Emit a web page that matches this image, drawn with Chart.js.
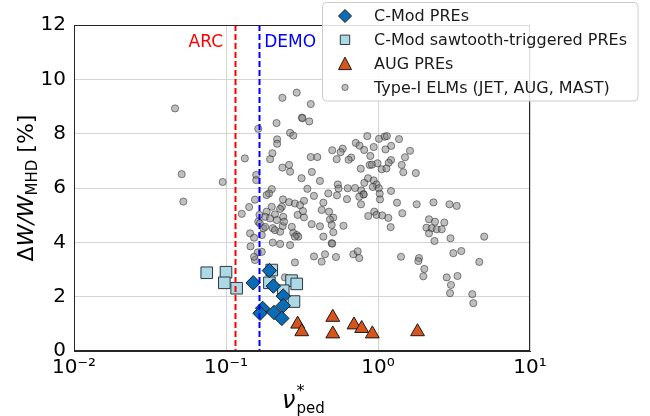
<!DOCTYPE html>
<html lang="en">
<head>
<meta charset="UTF-8">
<title>Energy loss vs pedestal collisionality</title>
<script src="https://cdn.jsdelivr.net/npm/chart.js@4.4.0/dist/chart.umd.min.js"></script>
<style>
  html, body { margin: 0; padding: 0; background: #fff; }
</style>
</head>
<body>
<canvas id="chart" width="650" height="416"></canvas>
<script>
// C-Mod PREs (diamonds)
const modNu = [0.151, 0.193, 0.205, 0.238, 0.238, 0.174, 0.1675, 0.207, 0.233];
const modDW = [2.51, 2.96, 2.39, 2.02, 1.67, 1.57, 1.39, 1.42, 1.20];

// C-Mod sawtooth-triggered PREs (squares)
const sawNu = [0.0747, 0.100, 0.0975, 0.1175, 0.200, 0.193, 0.270, 0.292, 0.238, 0.280];
const sawDW = [2.88, 2.90, 2.51, 2.31, 2.98, 2.51, 2.59, 2.47, 2.22, 1.82];

// AUG PREs (triangles)
const augNu = [0.296, 0.315, 0.504, 0.504, 0.695, 0.781, 0.918, 1.82];
const augDW = [0.99, 0.71, 1.24, 0.63, 0.96, 0.83, 0.63, 0.71];

// Type-I ELMs (JET, AUG, MAST)
const elmNu = [
  0.0462, 0.0511, 0.0524, 0.0951, 0.235, 0.292, 0.361, 0.316, 0.318, 0.353,
  0.215, 0.163, 0.264, 0.277, 0.217, 0.217, 0.202, 0.195, 0.133, 0.500,
  0.586, 0.568, 0.361, 0.399, 0.535, 0.850, 1.015, 1.107, 1.144, 1.375,
  0.714, 0.756, 0.937, 0.811, 1.120, 1.221, 1.624, 0.890, 1.505, 0.667,
  0.641, 1.218, 1.176, 1.432, 0.882, 0.913, 0.992, 0.770, 1.058, 1.136,
  1.467, 1.773, 0.235, 0.260, 0.264, 0.367, 0.158, 0.158, 0.314, 0.415,
  0.200, 0.192, 0.185, 0.343, 0.471, 0.544, 0.550, 0.537, 0.379, 0.155,
  0.326, 0.237, 0.260, 0.284, 0.307, 0.233, 0.227, 0.142, 0.127, 0.185,
  0.200, 0.166, 0.181, 0.195, 0.210, 0.238, 0.216, 0.296, 0.326, 0.426,
  0.476, 0.508, 0.483, 0.163, 0.167, 0.176, 0.181, 0.203, 0.210, 0.227,
  0.236, 0.241, 0.277, 0.271, 0.292, 0.299, 0.284, 0.366, 0.415, 0.496,
  0.508, 0.437, 0.144, 0.153, 0.172, 0.203, 0.227, 0.264, 0.496, 0.500,
  0.145, 0.162, 0.172, 0.155, 0.153, 0.284, 0.379, 0.448, 0.426, 0.529,
  0.244, 0.437, 0.321, 0.813, 0.860, 0.937, 0.978, 0.924, 1.012, 1.026,
  1.031, 0.632, 0.706, 0.776, 0.803, 0.805, 0.753, 0.625, 0.773, 1.218,
  1.334, 1.797, 2.318, 1.445, 0.945, 0.978, 0.863, 1.066, 1.169, 1.212,
  2.165, 2.371, 2.731, 2.085, 2.256, 2.433, 2.625, 2.165, 2.353, 3.000,
  4.997, 2.954, 3.294, 3.129, 3.532, 4.639, 1.417, 1.861, 1.841, 2.017,
  1.986, 2.831, 3.334, 3.022, 2.977, 4.173, 4.236, 0.688, 0.735, 0.753,
  0.593
];
const elmDW = [
  8.93, 6.51, 5.50, 6.22, 9.32, 9.51, 9.09, 8.59, 8.57, 8.45,
  8.39, 8.18, 8.03, 7.93, 7.79, 7.63, 7.28, 7.06, 7.09, 7.39,
  7.45, 7.32, 7.14, 7.14, 7.06, 7.91, 7.81, 7.89, 7.91, 7.80,
  7.66, 7.56, 7.51, 7.40, 7.42, 7.55, 7.37, 7.18, 7.13, 7.12,
  7.04, 7.03, 6.93, 6.85, 6.85, 6.86, 6.91, 6.71, 6.69, 6.72,
  6.58, 6.55, 6.75, 6.85, 6.60, 6.59, 6.48, 6.29, 6.36, 6.26,
  5.96, 5.80, 5.74, 5.97, 5.80, 6.13, 5.98, 5.73, 5.71, 5.57,
  5.53, 5.58, 5.48, 5.43, 5.37, 5.31, 5.23, 5.30, 5.05, 5.13,
  5.31, 5.01, 4.94, 4.88, 5.03, 4.94, 4.82, 5.01, 4.92, 5.19,
  5.13, 4.91, 4.84, 4.76, 4.70, 4.52, 4.57, 4.52, 4.45, 4.39,
  4.60, 4.76, 4.35, 4.57, 4.27, 4.21, 4.21, 4.67, 4.59, 4.64,
  4.37, 4.21, 4.33, 4.17, 4.27, 3.99, 3.94, 3.90, 3.97, 3.95,
  3.85, 3.63, 3.65, 3.35, 3.47, 3.26, 3.48, 3.56, 3.29, 3.46,
  2.71, 5.46, 5.15, 6.19, 6.36, 6.28, 6.13, 6.04, 5.99, 5.79,
  5.58, 5.99, 6.00, 5.91, 5.77, 5.76, 5.68, 5.59, 5.40, 5.89,
  5.46, 5.40, 5.47, 5.07, 5.13, 5.01, 4.97, 4.99, 4.90, 4.56,
  4.85, 4.76, 4.73, 4.54, 4.52, 4.48, 4.48, 4.33, 4.05, 4.15,
  4.21, 5.40, 5.34, 3.60, 3.68, 3.28, 3.47, 3.42, 3.31, 3.02,
  2.75, 2.71, 2.76, 2.43, 2.13, 2.09, 1.76, 3.56, 3.67, 3.42,
  4.61
];

// axes
const xTickVals = [0.01, 0.1, 1, 10];
const xTickLabels = ['10⁻²', '10⁻¹', '10⁰', '10¹'];
const yTickVals = [0, 2, 4, 6, 8, 10, 12];

// reference machines
const refNames = ['ARC', 'DEMO'];
const refNu = [0.1146, 0.1655];
const refColors = ['#ff0000', '#0000ff'];

const FONT = 'DejaVu Sans';

function pts(xs, ys) {
  return xs.map((x, i) => ({ x: x, y: ys[i] }));
}

// legend marker shapes
function drawMarker(ctx, kind, x, y) {
  ctx.beginPath();
  if (kind === 'diamond') {
    ctx.moveTo(x, y - 6.5); ctx.lineTo(x + 6.5, y); ctx.lineTo(x, y + 6.5); ctx.lineTo(x - 6.5, y);
  } else if (kind === 'square') {
    ctx.rect(x - 4.7, y - 4.7, 9.4, 9.4);
  } else if (kind === 'triangle') {
    ctx.moveTo(x, y - 6.5); ctx.lineTo(x + 6.5, y + 6); ctx.lineTo(x - 6.5, y + 6);
  } else {
    ctx.arc(x, y, 3.2, 0, Math.PI * 2);
  }
  ctx.closePath();
  ctx.fill();
  ctx.stroke();
}

const decor = {
  id: 'decor',
  afterDatasetsDraw(chart) {
    const { ctx, chartArea: a, scales: { x } } = chart;
    ctx.save();
    ctx.lineWidth = 2;
    ctx.setLineDash([6, 3]);
    refNu.forEach((v, i) => {
      const px = Math.round(x.getPixelForValue(v)) + 0.5;
      ctx.strokeStyle = refColors[i];
      ctx.beginPath();
      ctx.moveTo(px, a.top);
      ctx.lineTo(px, a.bottom);
      ctx.stroke();
    });
    ctx.setLineDash([]);
    ctx.font = '17px ' + FONT;
    ctx.textBaseline = 'middle';
    refNu.forEach((v, i) => {
      const px = x.getPixelForValue(v);
      ctx.fillStyle = refColors[i];
      if (i === 0) {
        ctx.textAlign = 'right';
        ctx.fillText(refNames[i], px - 12, a.top + 18);
      } else {
        ctx.textAlign = 'left';
        ctx.fillText(refNames[i], px + 5, a.top + 18);
      }
    });
    ctx.restore();
  },
  afterDraw(chart) {
    const { ctx, chartArea: a } = chart;
    ctx.save();

    // frame
    ctx.strokeStyle = '#262626';
    ctx.lineWidth = 1;
    ctx.strokeRect(a.left + 0.5, a.top + 0.5, a.right - a.left - 1, a.bottom - a.top - 1);

    // x title: nu*_ped
    ctx.fillStyle = '#000';
    ctx.textAlign = 'left';
    ctx.textBaseline = 'alphabetic';
    let cx = 282;
    ctx.font = 'italic 24px ' + FONT;
    ctx.fillText('ν', cx, 408);
    cx += ctx.measureText('ν').width + 1;
    ctx.font = '16px ' + FONT;
    ctx.fillText('*', cx, 396);
    ctx.font = '15px ' + FONT;
    ctx.fillText('ped', cx, 413);

    // y title: ΔW/W_MHD [%]
    ctx.save();
    ctx.translate(33, 188);
    ctx.rotate(-Math.PI / 2);
    const parts = [
      { t: 'Δ', f: '22px ' + FONT, dy: 0 },
      { t: 'W/W', f: 'italic 22px ' + FONT, dy: 0 },
      { t: 'MHD', f: '15px ' + FONT, dy: 4 },
      { t: ' [%]', f: '22px ' + FONT, dy: 0 }
    ];
    let total = 0;
    parts.forEach(p => { ctx.font = p.f; total += ctx.measureText(p.t).width; });
    let tx = -total / 2;
    parts.forEach(p => {
      ctx.font = p.f;
      ctx.fillText(p.t, tx, p.dy);
      tx += ctx.measureText(p.t).width;
    });
    ctx.restore();

    // legend
    const lx = 322.5, ly = 2.5, lw = 315.5, lh = 98.5;
    ctx.beginPath();
    ctx.roundRect(lx, ly, lw, lh, 4);
    ctx.fillStyle = 'rgba(255,255,255,0.85)';
    ctx.fill();
    ctx.strokeStyle = '#cccccc';
    ctx.lineWidth = 1;
    ctx.stroke();

    const kinds = ['diamond', 'square', 'triangle', 'circle'];
    chart.data.datasets.forEach((ds, i) => {
      const ry = 16 + i * 23.8;
      ctx.fillStyle = ds.backgroundColor;
      ctx.strokeStyle = ds.borderColor;
      ctx.lineWidth = 1;
      drawMarker(ctx, kinds[i], 345, ry);
      ctx.fillStyle = '#1a1a1a';
      ctx.font = '16px ' + FONT;
      ctx.textBaseline = 'middle';
      ctx.textAlign = 'left';
      ctx.fillText(ds.label, 374, ry + 1);
    });
    ctx.restore();
  }
};

new Chart(document.getElementById('chart'), {
  type: 'scatter',
  data: {
    datasets: [
      {
        label: 'C-Mod PREs',
        data: pts(modNu, modDW),
        pointStyle: 'rectRot',
        pointRadius: 7.2,
        backgroundColor: '#0a6cb6',
        borderColor: '#1a1a1a',
        borderWidth: 1
      },
      {
        label: 'C-Mod sawtooth-triggered PREs',
        data: pts(sawNu, sawDW),
        pointStyle: 'rect',
        pointRadius: 8.2,
        backgroundColor: '#add8e6',
        borderColor: '#2b3a40',
        borderWidth: 1
      },
      {
        label: 'AUG PREs',
        data: pts(augNu, augDW),
        pointStyle: 'triangle',
        pointRadius: 8,
        backgroundColor: '#d9541a',
        borderColor: '#1a1a1a',
        borderWidth: 1
      },
      {
        label: 'Type-I ELMs (JET, AUG, MAST)',
        data: pts(elmNu, elmDW),
        pointStyle: 'circle',
        pointRadius: 3.6,
        backgroundColor: 'rgba(128,128,128,0.5)',
        borderColor: 'rgba(30,30,30,0.5)',
        borderWidth: 1
      }
    ]
  },
  options: {
    responsive: false,
    animation: false,
    events: [],
    layout: { padding: { left: 0, top: 25, right: 120, bottom: 0 } },
    plugins: {
      legend: { display: false },
      tooltip: { enabled: false }
    },
    scales: {
      x: {
        type: 'logarithmic',
        min: 0.01,
        max: 10,
        afterBuildTicks: s => { s.ticks = xTickVals.map(v => ({ value: v })); },
        afterFit: s => { s.height = 65; },
        ticks: {
          autoSkip: false,
          maxRotation: 0,
          padding: 5,
          color: '#000',
          font: { family: FONT, size: 20 },
          callback: v => {
            const i = xTickVals.indexOf(v);
            return i >= 0 ? xTickLabels[i] : '';
          }
        },
        grid: { color: '#d4d4d4', lineWidth: 1, drawTicks: false },
        border: { display: true, color: '#262626', width: 1 }
      },
      y: {
        min: 0,
        max: 12,
        afterBuildTicks: s => { s.ticks = yTickVals.map(v => ({ value: v })); },
        afterFit: s => { s.width = 74; },
        ticks: {
          padding: 8,
          color: '#000',
          font: { family: FONT, size: 20 },
          callback: v => String(v)
        },
        grid: { color: '#d4d4d4', lineWidth: 1, drawTicks: false },
        border: { display: true, color: '#262626', width: 1 }
      }
    }
  },
  plugins: [decor]
});
</script>
</body>
</html>
